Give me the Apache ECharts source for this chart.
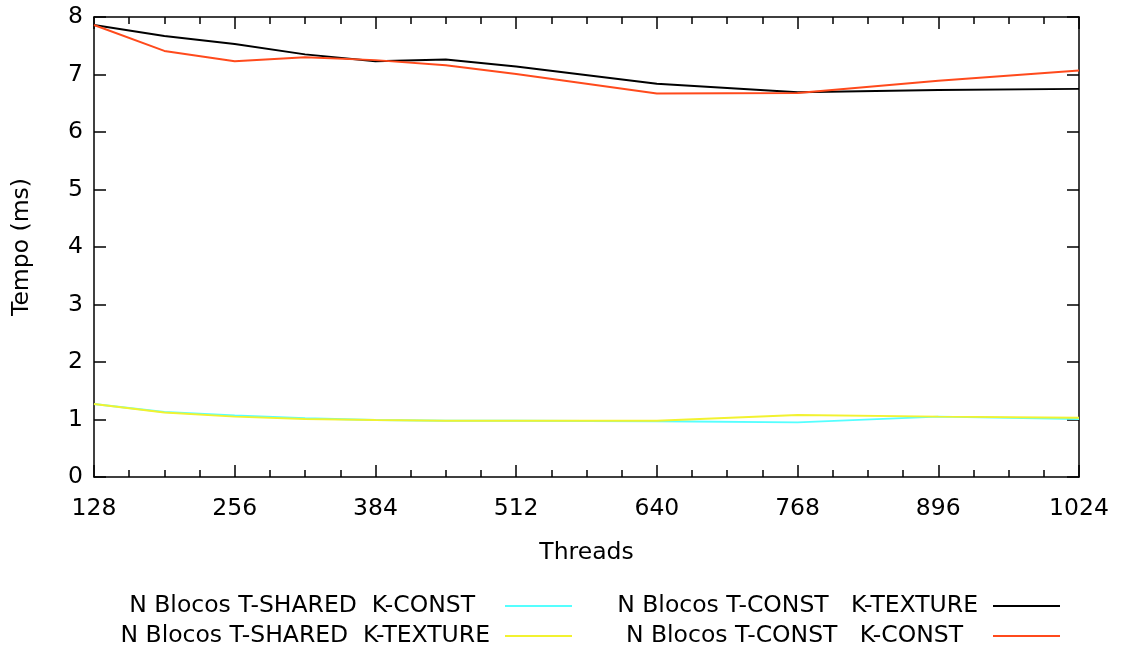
<!DOCTYPE html>
<html>
<head>
<meta charset="utf-8">
<script src="https://cdn.jsdelivr.net/npm/echarts@6/dist/echarts.min.js"></script>
<style>html,body{margin:0;padding:0;background:#fff}#c{width:1121px;height:653px}</style>
</head>
<body>
<div id="c"></div>
<script>
const threads = [128, 192, 256, 320, 384, 448, 512, 640, 768, 896, 1024];
const sharedConst = [1.27, 1.13, 1.07, 1.02, 0.99, 0.98, 0.98, 0.97, 0.95, 1.05, 1.01];
const sharedTexture = [1.27, 1.12, 1.05, 1.01, 0.99, 0.98, 0.98, 0.98, 1.08, 1.05, 1.03];
const constTexture = [7.86, 7.67, 7.53, 7.35, 7.23, 7.26, 7.14, 6.84, 6.69, 6.73, 6.75];
const constConst = [7.86, 7.41, 7.23, 7.30, 7.25, 7.16, 7.01, 6.67, 6.68, 6.89, 7.07];
const names = ['N Blocos T-SHARED  K-CONST', 'N Blocos T-SHARED  K-TEXTURE', 'N Blocos T-CONST   K-TEXTURE', 'N Blocos T-CONST   K-CONST'];
const colors = ['#55ffff', '#f2f230', '#000000', '#ff4a1c'];
const values = [sharedConst, sharedTexture, constTexture, constConst];

const font = 'DejaVu Sans';
const fs = 23.5;
const chart = echarts.init(document.getElementById('c'), null, {renderer: 'canvas'});
const pairs = v => threads.map((t, i) => [t, v[i]]);

const legendPos = [
  {right: 1121 - 572, top: 594, pad: 25},
  {right: 1121 - 572, top: 624, pad: 10},
  {right: 1121 - 1060, top: 594, pad: 10},
  {right: 1121 - 1060, top: 624, pad: 25}
];

const axisLine = {show: true, onZero: false, lineStyle: {color: '#000', width: 1.5}};
const tickStyle = {color: '#000', width: 1.5};
const xBase = {type: 'value', min: 128, max: 1024, splitLine: {show: false}};
const minorX = pos => Object.assign({}, xBase, {
  interval: 32, position: pos,
  axisLine: {show: false, onZero: false},
  axisTick: {show: true, inside: true, length: 7, lineStyle: tickStyle},
  axisLabel: {show: false}
});
chart.setOption({
  animation: false,
  textStyle: {fontFamily: font},
  grid: {left: 94, right: 42, top: 17, bottom: 176, containLabel: false},
  legend: names.map((n, i) => ({
    data: [n],
    right: legendPos[i].right,
    top: legendPos[i].top,
    align: 'right',
    orient: 'vertical',
    icon: 'rect',
    itemWidth: 67,
    itemHeight: 2,
    padding: 0,
    selectedMode: false,
    textStyle: {fontFamily: font, fontSize: fs, color: '#000', padding: [0, legendPos[i].pad, 0, 0]}
  })),
  xAxis: [Object.assign({}, xBase, {
    interval: 128,
    name: 'Threads', nameLocation: 'middle', nameGap: 64,
    nameTextStyle: {fontFamily: font, fontSize: fs, color: '#000'},
    axisLine: axisLine,
    axisTick: {show: true, inside: true, length: 12, lineStyle: tickStyle},
    axisLabel: {fontFamily: font, fontSize: fs, color: '#000', margin: 20, formatter: v => String(v)}
  }), Object.assign({}, xBase, {
    interval: 128, position: 'top',
    axisLine: axisLine,
    axisTick: {show: true, inside: true, length: 12, lineStyle: tickStyle},
    axisLabel: {show: false}
  }), minorX('bottom'), minorX('top')],
  yAxis: [{
    type: 'value', min: 0, max: 8, interval: 1,
    name: 'Tempo (ms)', nameLocation: 'middle', nameGap: 60, nameRotate: 90,
    nameTextStyle: {fontFamily: font, fontSize: fs, color: '#000'},
    axisLine: axisLine,
    axisTick: {show: true, inside: true, length: 12, lineStyle: tickStyle},
    axisLabel: {fontFamily: font, fontSize: fs, color: '#000', margin: 11},
    splitLine: {show: false}
  }, {
    type: 'value', min: 0, max: 8, interval: 1, position: 'right',
    axisLine: axisLine,
    axisTick: {show: true, inside: true, length: 12, lineStyle: tickStyle},
    axisLabel: {show: false},
    splitLine: {show: false}
  }],
  series: names.map((n, i) => ({
    name: n,
    type: 'line',
    data: pairs(values[i]),
    showSymbol: false,
    symbol: 'none',
    color: colors[i],
    lineStyle: {color: colors[i], width: 2},
    z: 2 + i
  }))
});
</script>
</body>
</html>
